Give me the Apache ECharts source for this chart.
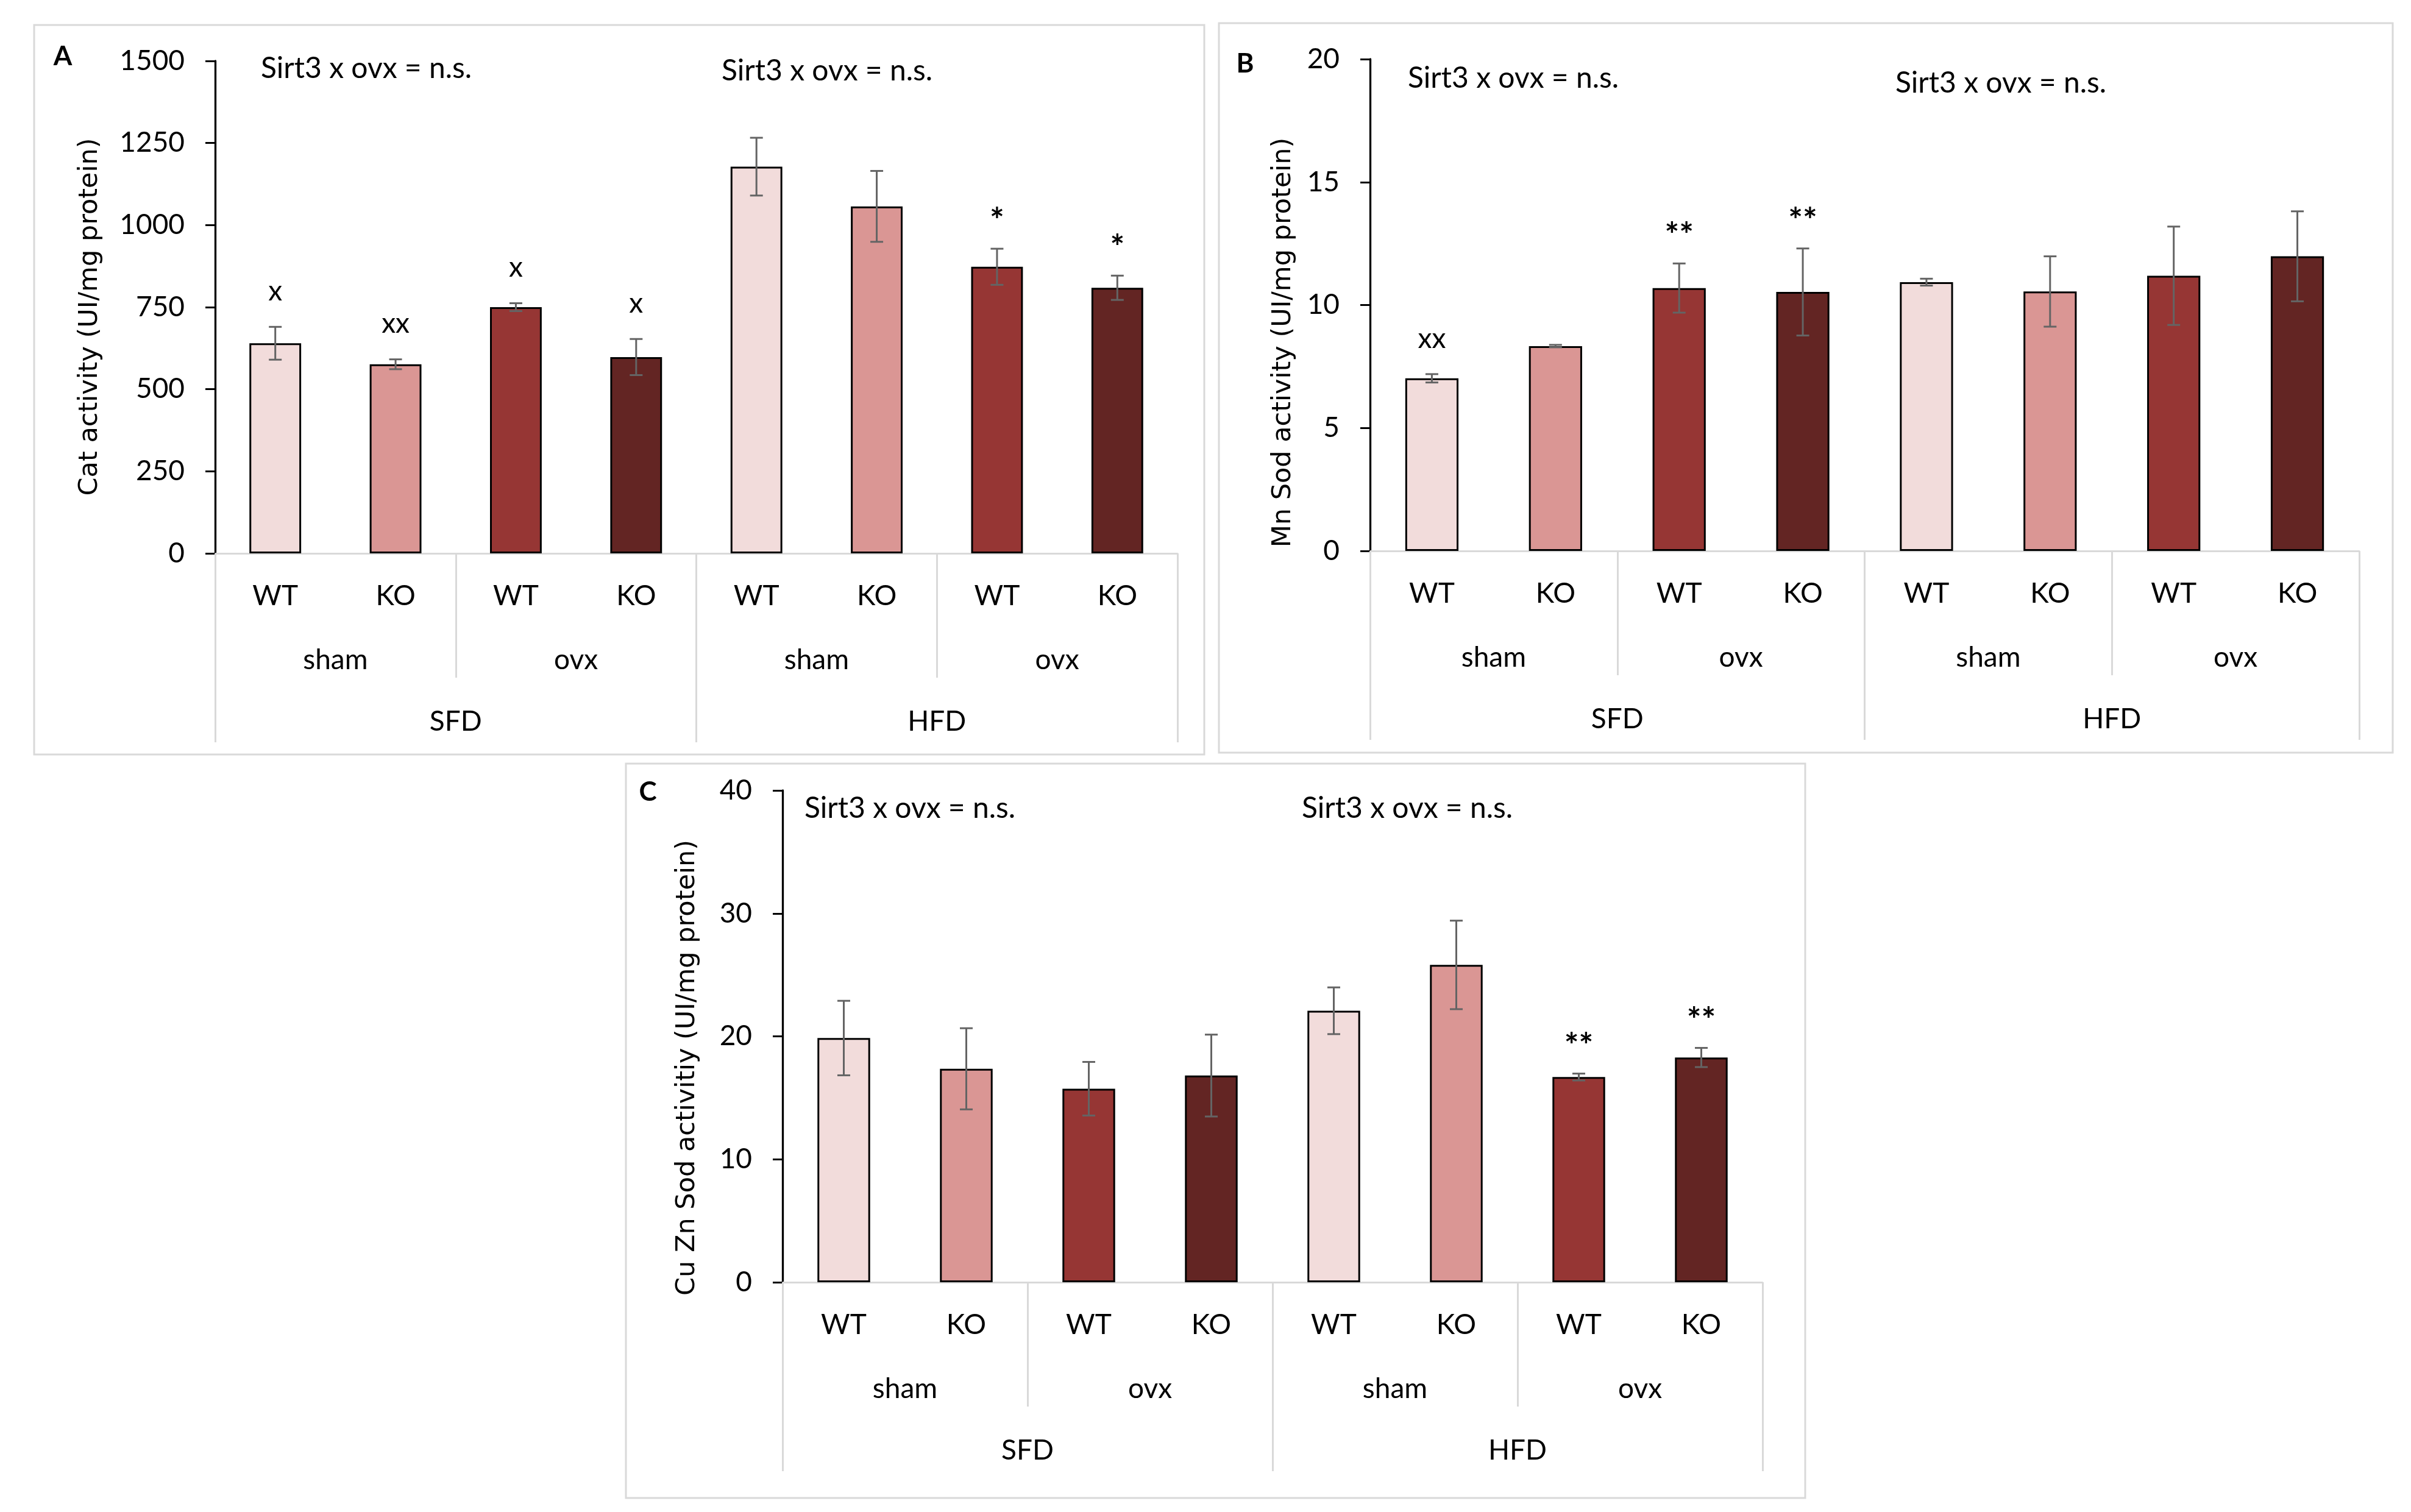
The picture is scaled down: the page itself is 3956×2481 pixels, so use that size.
<!DOCTYPE html>
<html>
<head>
<meta charset="utf-8">
<script src="https://cdn.jsdelivr.net/npm/echarts@6/dist/echarts.min.js"></script>
<style>
html,body{margin:0;padding:0;background:#fff;}
#chart{width:3956px;height:2481px;}
</style>
</head>
<body>
<div id="chart"></div>
<script>
// ---------- data ----------
const genotypeLabels = ['WT','KO','WT','KO','WT','KO','WT','KO'];
const surgeryLabels = ['sham','ovx','sham','ovx'];
const dietLabels = ['SFD','HFD'];
const barColors = ['#F2DCDB','#DA9694','#963634','#632523','#F2DCDB','#DA9694','#963634','#632523'];

const catValues = [640, 576, 750, 598, 1178, 1057, 873, 809];
const catErrors = [50, 15, 12, 55, 88, 108, 55, 37];
const catMarks  = ['x','xx','x','x','','','*','*'];

const mnValues = [7.02, 8.33, 10.69, 10.53, 10.93, 10.55, 11.19, 11.98];
const mnErrors = [0.17, 0.05, 1.0, 1.77, 0.14, 1.43, 2.0, 1.83];
const mnMarks  = ['xx','','**','**','','','',''];

const cuValues = [19.86, 17.36, 15.74, 16.81, 22.08, 25.81, 16.69, 18.28];
const cuErrors = [3.03, 3.3, 2.18, 3.33, 1.9, 3.6, 0.28, 0.78];
const cuMarks  = ['','','','','','','**','**'];

const interactionText = 'Sirt3 x ovx = n.s.';
const titleA = 'Cat activity (UI/mg protein)';
const titleB = 'Mn Sod activity (UI/mg protein)';
const titleC = 'Cu Zn Sod activitiy (UI/mg protein)';

// ---------- styling ----------
const FONT = 'Lato';
const TICK_FS = 46;
const GRAY = '#d9d9d9';

const chart = echarts.init(document.getElementById('chart'), null, {renderer: 'canvas'});

const panels = [
  {grid: {left: 353, top: 100, width: 1579, height: 808}, values: catValues, errors: catErrors, marks: catMarks, min: 0, max: 1500, interval: 250},
  {grid: {left: 2248, top: 97, width: 1623, height: 807}, values: mnValues, errors: mnErrors, marks: mnMarks, min: 0, max: 20, interval: 5},
  {grid: {left: 1284, top: 1297, width: 1608, height: 807}, values: cuValues, errors: cuErrors, marks: cuMarks, min: 0, max: 40, interval: 10}
];

const grids = [], xAxes = [], yAxes = [], series = [];
panels.forEach((p, k) => {
  grids.push(Object.assign({containLabel: false}, p.grid));
  const base = 3 * k;
  xAxes.push({
    type: 'category', gridIndex: k, position: 'bottom', data: genotypeLabels,
    axisLine: {show: true, lineStyle: {color: GRAY, width: 3}},
    axisTick: {show: false},
    axisLabel: {margin: 70, verticalAlign: 'middle', fontFamily: FONT, fontSize: TICK_FS, color: '#000'}
  });
  xAxes.push({
    type: 'category', gridIndex: k, position: 'bottom', offset: 0, data: surgeryLabels,
    axisLine: {show: false},
    axisTick: {show: true, length: 204, lineStyle: {color: GRAY, width: 3}},
    axisLabel: {margin: 175, verticalAlign: 'middle', fontFamily: FONT, fontSize: TICK_FS, color: '#000'}
  });
  xAxes.push({
    type: 'category', gridIndex: k, position: 'bottom', offset: 0, data: dietLabels,
    axisLine: {show: false},
    axisTick: {show: true, length: 310, lineStyle: {color: GRAY, width: 3}},
    axisLabel: {margin: 276, verticalAlign: 'middle', fontFamily: FONT, fontSize: TICK_FS, color: '#000'}
  });
  yAxes.push({
    type: 'value', gridIndex: k, min: p.min, max: p.max, interval: p.interval,
    axisLine: {show: true, lineStyle: {color: '#000', width: 3.3}},
    axisTick: {show: true, length: 16, lineStyle: {color: '#000', width: 3}},
    axisLabel: {margin: 50, fontFamily: FONT, fontSize: TICK_FS, color: '#000', formatter: v => String(v)},
    splitLine: {show: false}
  });
  series.push({
    type: 'bar', xAxisIndex: base, yAxisIndex: k, barWidth: '43%',
    data: p.values.map((v, i) => ({value: v, itemStyle: {color: barColors[i]}})),
    itemStyle: {borderColor: '#000', borderWidth: 3},
    z: 2
  });
  const marks = p.marks;
  series.push({
    type: 'custom', xAxisIndex: base, yAxisIndex: k, z: 3,
    data: p.values.map((v, i) => [i, v, p.errors[i]]),
    renderItem: function (params, api) {
      const i = api.value(0), v = api.value(1), e = api.value(2);
      const top = api.coord([i, v + e]);
      const bot = api.coord([i, v - e]);
      const cap = 10.5;
      const ls = {stroke: '#646464', lineWidth: 3};
      const children = [
        {type: 'line', shape: {x1: top[0], y1: top[1], x2: bot[0], y2: bot[1]}, style: ls},
        {type: 'line', shape: {x1: top[0] - cap, y1: top[1], x2: top[0] + cap, y2: top[1]}, style: ls},
        {type: 'line', shape: {x1: bot[0] - cap, y1: bot[1], x2: bot[0] + cap, y2: bot[1]}, style: ls}
      ];
      const m = marks[params.dataIndex];
      if (m) {
        const star = m.indexOf('*') >= 0;
        children.push({type: 'text', x: top[0], y: top[1] - (star ? 45 : 58),
          style: {text: m, fill: '#000', font: (star ? 'bold 56px ' : TICK_FS + 'px ') + FONT, align: 'center', verticalAlign: 'middle'}});
      }
      return {type: 'group', children: children};
    }
  });
});

function txt(x, y, text, opts) {
  return Object.assign({type: 'text', x: x, y: y,
    style: Object.assign({text: text, fill: '#000', font: '48px ' + FONT, align: 'left', verticalAlign: 'middle'}, opts || {})});
}

const graphics = [
  // panel frames
  {type: 'rect', shape: {x: 56, y: 41, width: 1920, height: 1197}, style: {fill: 'none', stroke: GRAY, lineWidth: 3}},
  {type: 'rect', shape: {x: 2000, y: 38, width: 1926, height: 1197}, style: {fill: 'none', stroke: GRAY, lineWidth: 3}},
  {type: 'rect', shape: {x: 1027, y: 1253, width: 1935, height: 1205}, style: {fill: 'none', stroke: GRAY, lineWidth: 3}},
  // panel letters
  txt(103, 93, 'A', {font: 'bold 44px ' + FONT, align: 'center'}),
  txt(2043, 105, 'B', {font: 'bold 44px ' + FONT, align: 'center'}),
  txt(1063, 1300, 'C', {font: 'bold 44px ' + FONT, align: 'center'}),
  // interaction notes
  txt(428, 113, interactionText),
  txt(1184, 117, interactionText),
  txt(2310, 129, interactionText),
  txt(3110, 137, interactionText),
  txt(1320, 1327, interactionText),
  txt(2136, 1327, interactionText),
  // y titles
  {type: 'text', x: 148, y: 520, rotation: Math.PI / 2, style: {text: titleA, fill: '#000', font: '43px "DejaVu Sans"', align: 'center', verticalAlign: 'middle'}},
  {type: 'text', x: 2106, y: 562, rotation: Math.PI / 2, style: {text: titleB, fill: '#000', font: '43px "DejaVu Sans"', align: 'center', verticalAlign: 'middle'}},
  {type: 'text', x: 1128, y: 1752, rotation: Math.PI / 2, style: {text: titleC, fill: '#000', font: '43px "DejaVu Sans"', align: 'center', verticalAlign: 'middle'}}
];

chart.setOption({
  animation: false,
  backgroundColor: '#fff',
  textStyle: {fontFamily: FONT},
  grid: grids,
  xAxis: xAxes,
  yAxis: yAxes,
  series: series,
  graphic: graphics
});
</script>
</body>
</html>
